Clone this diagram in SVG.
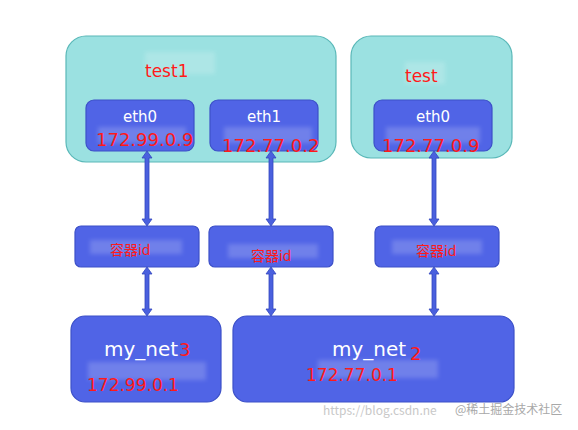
<svg xmlns="http://www.w3.org/2000/svg" width="578" height="430" viewBox="0 0 578 430">
<style>
.cont{fill:#9be1e1;stroke:#5ab8b8;stroke-width:1.2}
.box{fill:#5064e6;stroke:#3c50c8;stroke-width:1.2}
.wt{fill:#ffffff;font-family:"DejaVu Sans",sans-serif}
.rt{fill:#ff1a1a;font-family:"DejaVu Sans",sans-serif}
.rc{fill:#ff1a1a;font-family:"Noto Sans CJK SC",sans-serif}
.blur{fill:#ffffff;opacity:0.18}
.bar{fill:#4a60de;stroke:#3448bf;stroke-width:0.8}
.wm{fill:#c8c8c8;font-family:"Noto Sans CJK SC",sans-serif;font-size:12px}
</style>
<defs>
<filter id="bl" x="-20%" y="-50%" width="140%" height="200%"><feGaussianBlur stdDeviation="2"/></filter>
</defs>
<rect width="578" height="430" fill="#ffffff"/>
<g id="test1">
<rect class="cont" x="66" y="36" width="270" height="126" rx="20"/>
<rect class="blur" x="145" y="52" width="70" height="22" filter="url(#bl)"/>
<text class="rt" x="145" y="77" font-size="17">test1</text>
</g>
<g id="test">
<rect class="cont" x="351" y="36" width="161" height="122" rx="20"/>
<rect class="blur" x="405" y="62" width="40" height="22" filter="url(#bl)"/>
<text class="rt" x="405" y="82" font-size="17">test</text>
</g>
<g id="eth0-test1">
<rect class="box" x="86" y="100" width="108" height="51" rx="8"/>
<rect class="blur" x="98" y="127" width="88" height="16" filter="url(#bl)"/>
<text class="wt" x="140" y="122" font-size="15" text-anchor="middle">eth0</text>
<text class="rt" x="96" y="146" font-size="18">172.99.0.9</text>
</g>
<g id="eth1-test1">
<rect class="box" x="210" y="100" width="108" height="51" rx="8"/>
<rect class="blur" x="224" y="127" width="88" height="16" filter="url(#bl)"/>
<text class="wt" x="264" y="122" font-size="15" text-anchor="middle">eth1</text>
<text class="rt" x="222" y="152" font-size="18">172.77.0.2</text>
</g>
<g id="eth0-test">
<rect class="box" x="374" y="100" width="118" height="51" rx="8"/>
<rect class="blur" x="386" y="127" width="94" height="16" filter="url(#bl)"/>
<text class="wt" x="433" y="122" font-size="15" text-anchor="middle">eth0</text>
<text class="rt" x="382" y="152" font-size="18">172.77.0.9</text>
</g>
<g id="cid1">
<rect class="box" x="75" y="226" width="124" height="41" rx="6"/>
<rect class="blur" x="90" y="240" width="92" height="14" filter="url(#bl)"/>
<text class="rc" x="110" y="255" font-size="14">容器id</text>
</g>
<g id="cid2">
<rect class="box" x="209" y="226" width="124" height="41" rx="6"/>
<rect class="blur" x="228" y="244" width="90" height="14" filter="url(#bl)"/>
<text class="rc" x="251" y="261" font-size="14">容器id</text>
</g>
<g id="cid3">
<rect class="box" x="375" y="226" width="124" height="41" rx="6"/>
<rect class="blur" x="392" y="240" width="90" height="14" filter="url(#bl)"/>
<text class="rc" x="416" y="256" font-size="14">容器id</text>
</g>
<g id="my_net3">
<rect class="box" x="71" y="316" width="150" height="86" rx="14"/>
<rect class="blur" x="88" y="362" width="118" height="18" filter="url(#bl)"/>
<text class="wt" x="104" y="356" font-size="20">my_net</text>
<text class="rt" x="179" y="356" font-size="18">3</text>
<text class="rt" x="87" y="391" font-size="17">172.99.0.1</text>
</g>
<g id="my_net2">
<rect class="box" x="233" y="316" width="281" height="86" rx="14"/>
<rect class="blur" x="318" y="360" width="120" height="18" filter="url(#bl)"/>
<text class="wt" x="332" y="356" font-size="20">my_net</text>
<text class="rt" x="410" y="360" font-size="18">2</text>
<text class="rt" x="306" y="381" font-size="17">172.77.0.1</text>
</g>
<g id="connectors">
<path class="bar" d="M147 151 L152 158 L149 158 L149 219 L152 219 L147 226 L142 219 L145 219 L145 158 L142 158 Z"/>
<path class="bar" d="M147 267 L152 274 L149 274 L149 309 L152 309 L147 316 L142 309 L145 309 L145 274 L142 274 Z"/>
<path class="bar" d="M271 151 L276 158 L273 158 L273 219 L276 219 L271 226 L266 219 L269 219 L269 158 L266 158 Z"/>
<path class="bar" d="M271 267 L276 274 L273 274 L273 309 L276 309 L271 316 L266 309 L269 309 L269 274 L266 274 Z"/>
<path class="bar" d="M434 151 L439 158 L436 158 L436 219 L439 219 L434 226 L429 219 L432 219 L432 158 L429 158 Z"/>
<path class="bar" d="M434 267 L439 274 L436 274 L436 309 L439 309 L434 316 L429 309 L432 309 L432 274 L429 274 Z"/>
</g>
<text class="wm" x="323" y="415">https://blog.csdn.ne</text>
<text class="wm" x="455" y="414" fill="#b0b0b0" style="fill:#a8a8a8">@稀土掘金技术社区</text>
</svg>
